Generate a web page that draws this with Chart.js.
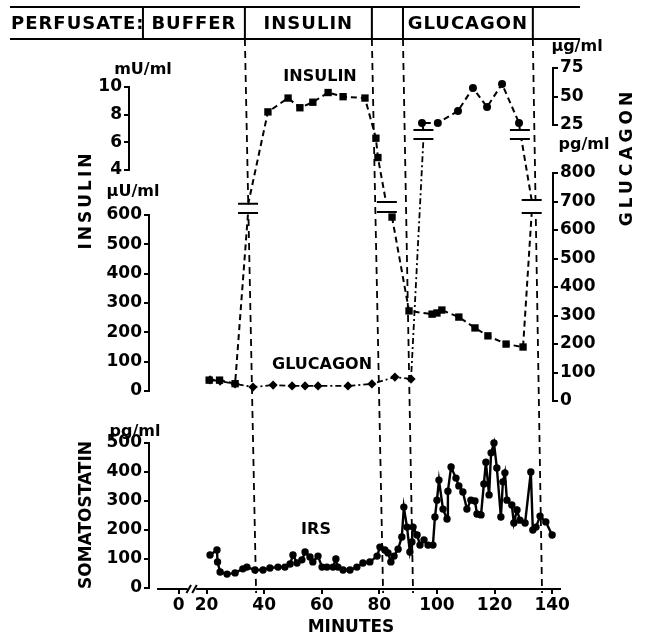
<!DOCTYPE html>
<html>
<head>
<meta charset="utf-8">
<script src="https://cdn.jsdelivr.net/npm/chart.js@4.4.1/dist/chart.umd.min.js"></script>
<style>
  html, body { margin: 0; padding: 0; background: #fff; }
  #wrap { width: 645px; height: 639px; }
</style>
</head>
<body>
<div id="wrap"><canvas id="myChart" width="645" height="639"></canvas></div>
<script>
// [minute, value] pairs
var insulinLowA = [[20.9, 37], [24.5, 37], [29.9, 25], [34.4, 607]];
var insulinHigh = [[34.4, 1.5], [41.3, 8.2], [48.3, 9.2], [52.4, 8.5], [56.9, 8.9], [62.2, 9.6], [67.4, 9.3], [75.0, 9.2], [78.8, 6.3], [79.5, 4.9], [82.3, 1.7]];
var insulinLowB = [[84.4, 593], [90.3, 273], [98.3, 262], [100.0, 266], [101.7, 276], [107.6, 252], [113.2, 215], [117.7, 188], [124.0, 160], [129.9, 150], [132.9, 607]];
var glucagonLow = [[21.2, 74], [24.7, 70], [29.9, 60], [36.1, 49], [43.1, 56], [49.7, 53], [54.2, 53], [58.7, 53], [69.1, 53], [77.4, 60], [85.4, 84], [91.0, 77], [95.3, 919]];
var glucagonHigh = [[95.3, 20.6], [94.8, 26.8], [100.3, 26.8], [107.3, 37.3], [112.5, 57.5], [117.4, 40.8], [122.6, 61.0], [128.5, 26.8], [128.8, 20.6], [132.9, -41]];
var irs = [[21.2, 114], [23.6, 131], [23.8, 90], [24.7, 55], [27.1, 48], [29.9, 52], [32.6, 66], [34.0, 72], [36.8, 62], [39.6, 62],
    [42.0, 69], [44.8, 72], [47.2, 72], [49.0, 83], [50.0, 114], [51.4, 86], [53.1, 97], [54.2, 124], [55.9, 107], [56.9, 90],
    [58.7, 110], [60.1, 72], [61.8, 72], [63.9, 72], [64.9, 100], [65.6, 72], [67.4, 62], [69.8, 62], [72.2, 72], [74.3, 86],
    [76.7, 90], [79.2, 110], [80.2, 141], [81.9, 131], [83.0, 121], [84.0, 90], [85.1, 110], [86.5, 134], [87.8, 176], [88.5, 279],
    [89.6, 210], [90.6, 124], [91.3, 159], [91.7, 210], [93.1, 183], [94.1, 148], [95.5, 166], [96.9, 148], [98.6, 148], [99.3, 245],
    [100.0, 303], [100.7, 372], [102.1, 272], [103.5, 238], [103.8, 334], [104.9, 417], [106.6, 379], [107.6, 352], [109.0, 331], [110.4, 272],
    [111.8, 303], [113.2, 300], [113.9, 255], [115.3, 252], [116.3, 359], [117.0, 434], [118.1, 321], [118.8, 466], [119.8, 500], [120.8, 414],
    [122.2, 245], [122.9, 366], [123.6, 397], [124.3, 303], [126.0, 286], [126.7, 224], [127.8, 269], [128.8, 234], [130.6, 224], [132.6, 400],
    [133.3, 200], [134.4, 210], [135.8, 248], [137.8, 228], [140.0, 183]];

// x axis: the "0" tick sits after the axis break
var xTickValues = [10.3, 20, 40, 60, 80, 100, 120, 140];
var xTickLabels = ['0', '20', '40', '60', '80', '100', '120', '140'];

// perfusion periods: header edges (top) and where the dashed lines reach the axis (bottom)
var headerLabels = ['PERFUSATE:', 'BUFFER', 'INSULIN', '', 'GLUCAGON'];
var headerEdges = [-2.1, 33.3, 77.4, 88.2, 133.3];
var phaseBottom = [37.2, 81.3, 91.7, 136.5];

// axis breaks: minute, axis, upper value, lower value
var breakMarks = [
    [34.4, 'yInsLow', 638, 607],
    [82.6, 'yInsLow', 644, 610],
    [95.3, 'yGluHigh', 20.6, 12.7],
    [128.8, 'yGluHigh', 20.6, 12.7],
    [132.9, 'yGluLow', 705, 660]
];

// text inside the plot: text, minute, axis, value
var seriesLabels = [
    ['INSULIN', 59.4, 'yInsHigh', 10.7],
    ['GLUCAGON', 60.1, 'yGluLow', 126],
    ['IRS', 58.0, 'ySoma', 200]
];

function toXY(list) {
    return list.map(function (p) { return { x: p[0], y: p[1] }; });
}

// hide markers that only mark where a line meets an axis break
function markerSize(r) {
    return function (ctx) {
        if (!ctx.raw) return r;
        var s = ctx.chart.scales[ctx.dataset.yAxisID];
        var v = ctx.raw.y;
        return (v < s.min - 0.001 || v > s.max + 0.001) ? 0 : r;
    };
}

var tickFont = { family: 'DejaVu Sans', size: 17, weight: 'bold' };
var LEFT_W = 149, RIGHT_W = 92;

function yAxis(pos, stackWeight, weight, min, max, step, width) {
    return {
        type: 'linear', position: pos, stack: pos, stackWeight: stackWeight, weight: weight,
        min: min, max: max,
        border: { color: '#000', width: 2 },
        grid: { drawOnChartArea: false, color: '#000', lineWidth: 2, tickLength: 5 },
        ticks: { stepSize: step, autoSkip: false, color: '#000', font: tickFont, padding: 2 },
        afterFit: function (s) { s.width = width; }
    };
}
function spacer(pos, stackWeight, weight) {
    return { type: 'linear', position: pos, stack: pos, stackWeight: stackWeight, weight: weight, display: false };
}

function drawText(ctx, text, x, y, size, spacing, rotate) {
    ctx.save();
    ctx.translate(x, y);
    if (rotate) ctx.rotate(-Math.PI / 2);
    ctx.font = 'bold ' + size + 'px "DejaVu Sans"';
    ctx.letterSpacing = spacing || '0px';
    ctx.fillStyle = '#000';
    ctx.textAlign = 'center';
    ctx.textBaseline = 'middle';
    ctx.fillText(text, 0, 0);
    ctx.restore();
}

var decor = {
    id: 'decor',
    afterLayout: function (chart) {
        // the mU/ml bracket stands further left than the other axes
        var s = chart.scales.yInsHigh;
        s.left -= 20;
        s.right -= 20;
    },
    beforeDatasetsDraw: function (chart) {
        var ctx = chart.ctx, xs = chart.scales.x, area = chart.chartArea;
        var top = 39, bottom = area.bottom + 5;
        ctx.save();
        ctx.strokeStyle = '#000';
        ctx.lineWidth = 1.8;
        ctx.setLineDash([7, 5]);
        for (var i = 0; i < phaseBottom.length; i++) {
            ctx.beginPath();
            ctx.moveTo(xs.getPixelForValue(headerEdges[i + 1]), top);
            ctx.lineTo(xs.getPixelForValue(phaseBottom[i]), bottom);
            ctx.stroke();
        }
        ctx.restore();
    },
    afterDraw: function (chart) {
        var ctx = chart.ctx, xs = chart.scales.x, area = chart.chartArea;
        ctx.save();
        ctx.strokeStyle = '#000';
        ctx.lineWidth = 2;

        // header row
        var hTop = 7, hBot = 39, hLeft = 10, hRight = 580;
        var hMid = (hTop + hBot) / 2 + 1;
        ctx.beginPath();
        ctx.moveTo(hLeft, hTop); ctx.lineTo(hRight, hTop);
        ctx.moveTo(hLeft, hBot); ctx.lineTo(hRight, hBot);
        headerEdges.forEach(function (m) {
            var x = xs.getPixelForValue(m);
            ctx.moveTo(x, hTop); ctx.lineTo(x, hBot);
        });
        ctx.stroke();
        ctx.font = 'bold 18px "DejaVu Sans"';
        ctx.fillStyle = '#000';
        ctx.textBaseline = 'middle';
        ctx.textAlign = 'left';
        ctx.letterSpacing = '1px';
        ctx.fillText(headerLabels[0], hLeft + 1, hMid);
        ctx.textAlign = 'center';
        for (var i = 1; i < headerLabels.length; i++) {
            var c = (xs.getPixelForValue(headerEdges[i - 1]) + xs.getPixelForValue(headerEdges[i])) / 2;
            ctx.fillText(headerLabels[i], c, hMid);
        }
        ctx.letterSpacing = '0px';

        // axis breaks
        breakMarks.forEach(function (bm) {
            var x = xs.getPixelForValue(bm[0]);
            var ys = chart.scales[bm[1]];
            var y1 = ys.getPixelForValue(bm[2]);
            var y2 = ys.getPixelForValue(bm[3]);
            ctx.fillStyle = '#fff';
            ctx.fillRect(x - 10, y1 + 1, 20, y2 - y1 - 2);
            ctx.beginPath();
            ctx.moveTo(x - 10, y1); ctx.lineTo(x + 10, y1);
            ctx.moveTo(x - 10, y2); ctx.lineTo(x + 10, y2);
            ctx.stroke();
        });

        // x axis line with its break
        var yb = area.bottom + 1;
        ctx.beginPath();
        ctx.moveTo(xs.getPixelForValue(2.8), yb); ctx.lineTo(xs.getPixelForValue(13.4), yb);
        ctx.moveTo(xs.getPixelForValue(16.4), yb); ctx.lineTo(area.right + 8, yb);
        ctx.moveTo(xs.getPixelForValue(13.0), yb + 4); ctx.lineTo(xs.getPixelForValue(14.6), yb - 4);
        ctx.moveTo(xs.getPixelForValue(15.0), yb + 4); ctx.lineTo(xs.getPixelForValue(16.6), yb - 4);
        ctx.stroke();
        ctx.restore();

        // units above the axes
        var s = chart.scales;
        drawText(ctx, 'mU/ml', s.yInsHigh.right + 14, s.yInsHigh.top - 17, 16);
        drawText(ctx, '\u00b5U/ml', s.yInsLow.right - 16, s.yInsLow.top - 23, 16);
        drawText(ctx, 'pg/ml', s.ySoma.right - 14, s.ySoma.top - 11, 16);
        drawText(ctx, '\u00b5g/ml', s.yGluHigh.left + 24, s.yGluHigh.top - 21, 16);
        drawText(ctx, 'pg/ml', s.yGluLow.left + 31, s.yGluLow.top - 28, 16);

        // axis titles
        drawText(ctx, 'INSULIN', 87, 200, 17, '3px', true);
        drawText(ctx, 'SOMATOSTATIN', 87, 515, 17, '0px', true);
        drawText(ctx, 'GLUCAGON', 628, 157, 17, '4px', true);

        // series names
        seriesLabels.forEach(function (l) {
            drawText(ctx, l[0], xs.getPixelForValue(l[1]), s[l[2]].getPixelForValue(l[3]), 16);
        });
    }
};

var ctx = document.getElementById('myChart').getContext('2d');
var myChart = new Chart(ctx, {
    type: 'line',
    data: {
        datasets: [
            {
                label: 'Glucagon (pg/ml)', data: toXY(glucagonLow), yAxisID: 'yGluLow', clip: false,
                borderColor: '#000', backgroundColor: '#000', borderWidth: 1.8, borderDash: [6, 3, 2, 3],
                pointStyle: 'rectRot', pointRadius: markerSize(4.6), pointBorderWidth: 0, tension: 0
            },
            {
                label: 'Glucagon (ug/ml)', data: toXY(glucagonHigh), yAxisID: 'yGluHigh', clip: false,
                borderColor: '#000', backgroundColor: '#000', borderWidth: 2, borderDash: [6, 4],
                pointStyle: 'circle', pointRadius: markerSize(4), pointBorderWidth: 0, tension: 0
            },
            {
                label: 'Insulin (uU/ml) a', data: toXY(insulinLowA), yAxisID: 'yInsLow', clip: false,
                borderColor: '#000', backgroundColor: '#000', borderWidth: 2, borderDash: [6, 4],
                pointStyle: 'rect', pointRadius: markerSize(5.2), pointBorderWidth: 0, tension: 0
            },
            {
                label: 'Insulin (mU/ml)', data: toXY(insulinHigh), yAxisID: 'yInsHigh', clip: false,
                borderColor: '#000', backgroundColor: '#000', borderWidth: 2, borderDash: [6, 4],
                pointStyle: 'rect', pointRadius: markerSize(5.2), pointBorderWidth: 0, tension: 0
            },
            {
                label: 'Insulin (uU/ml) b', data: toXY(insulinLowB), yAxisID: 'yInsLow', clip: false,
                borderColor: '#000', backgroundColor: '#000', borderWidth: 2, borderDash: [6, 4],
                pointStyle: 'rect', pointRadius: markerSize(5.2), pointBorderWidth: 0, tension: 0
            },
            {
                label: 'IRS', data: toXY(irs), yAxisID: 'ySoma', clip: false,
                borderColor: '#000', backgroundColor: '#000', borderWidth: 2.4,
                pointStyle: 'circle', pointRadius: 3.7, pointBorderWidth: 0, tension: 0
            }
        ]
    },
    options: {
        responsive: false,
        animation: false,
        devicePixelRatio: 1,
        layout: { padding: { top: 68, left: 0, right: 0, bottom: 0 } },
        plugins: { legend: { display: false }, tooltip: { enabled: false } },
        scales: {
            x: {
                type: 'linear', min: 0, max: 140.3,
                border: { display: false },
                grid: { drawOnChartArea: false, color: '#000', lineWidth: 2, tickLength: 6 },
                afterBuildTicks: function (s) { s.ticks = xTickValues.map(function (v) { return { value: v }; }); },
                ticks: {
                    autoSkip: false, maxRotation: 0, color: '#000', font: tickFont, padding: 1,
                    callback: function (v, i) { return xTickLabels[i]; }
                },
                title: { display: true, text: 'MINUTES', color: '#000', font: { family: 'DejaVu Sans', size: 17, weight: 'bold' }, padding: { top: 0, bottom: 1 } },
                afterFit: function (s) { s.height = 51; }
            },
            ySoma: yAxis('left', 145, 1, 0, 500, 100, LEFT_W),
            spL3: spacer('left', 52, 2),
            yInsLow: yAxis('left', 176, 3, 0, 600, 100, LEFT_W),
            spL2: spacer('left', 45, 4),
            yInsHigh: yAxis('left', 83, 5, 4, 10, 2, LEFT_W),
            spL1: spacer('left', 19, 6),
            yGluHigh: yAxis('right', 57, 1, 25, 75, 25, RIGHT_W),
            spR1: spacer('right', 48, 2),
            yGluLow: yAxis('right', 228, 3, 0, 800, 100, RIGHT_W),
            spR2: spacer('right', 187, 4)
        }
    },
    plugins: [decor]
});
</script>
</body>
</html>
